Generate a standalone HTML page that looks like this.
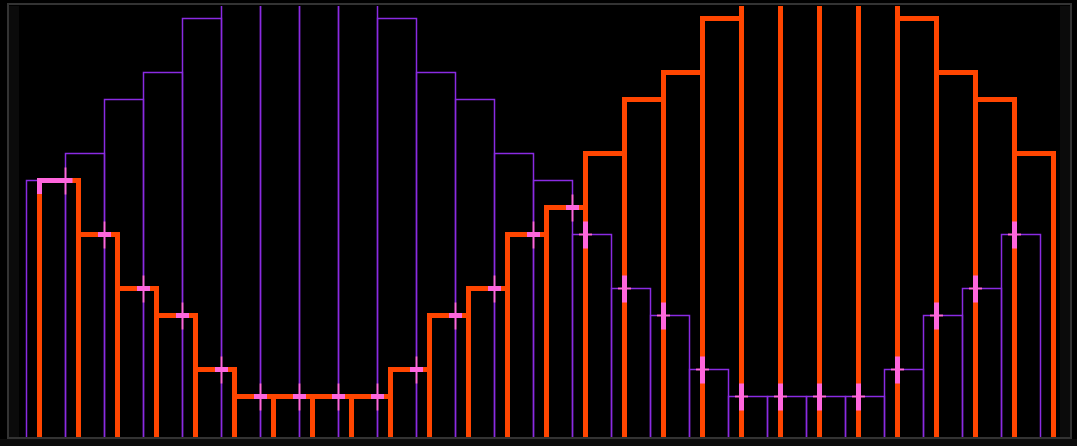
<!DOCTYPE html>
<html><head><meta charset="utf-8"><style>
html,body{margin:0;padding:0;background:#000;width:1077px;height:446px;overflow:hidden}
svg{display:block}
</style></head><body>
<svg id="chart" width="1077" height="446" xmlns="http://www.w3.org/2000/svg">
<rect x="0" y="0" width="1077" height="446" fill="#000"/>
<rect x="9" y="6" width="10" height="431" fill="#0b0b0b"/>
<rect x="1060" y="6" width="10" height="431" fill="#0b0b0b"/>
<rect x="0" y="439" width="1077" height="7" fill="#0c0c0c"/>
<defs><clipPath id="pc"><rect x="9" y="6" width="1061" height="431"/></clipPath></defs>
<g id="plot" clip-path="url(#pc)"></g>
<rect x="8" y="4" width="1063" height="434" fill="none" stroke="#333" stroke-width="2"/>
</svg>
<script>
// purple histogram: 26 bins starting at edge index 0
const purpleValues = [9.5,10.5,12.5,13.5,15.5,17,17,17,17,15.5,13.5,12.5,10.5,9.5,7.5,5.5,4.5,2.5,1.5,1.5,1.5,1.5,2.5,4.5,5.5,7.5];
// orange histogram: 26 bins offset by one third of a bin
const orangeValues = [9.5,7.5,5.5,4.5,2.5,1.5,1.5,1.5,1.5,2.5,4.5,5.5,7.5,8.5,10.5,12.5,13.5,15.5,17,17,17,17,15.5,13.5,12.5,10.5];
const binStart = 0, binWidth = 1, orangeOffset = 1/3;

const X0 = 26.5, PXB = 39, Y0 = 437, PXV = 27;
const xs = v => X0 + (v - binStart) * PXB;
const ys = v => Y0 - v * PXV;
const NS = 'http://www.w3.org/2000/svg';
const plot = document.getElementById('plot');
function mk(tag, attrs){const e=document.createElementNS(NS,tag);for(const k in attrs)e.setAttribute(k,attrs[k]);plot.appendChild(e);return e;}

// purple bars
purpleValues.forEach((v,i)=>{
  const x1=xs(i*binWidth), x2=xs((i+1)*binWidth), y=ys(v);
  const p=mk('path',{d:`M${x1},${Y0} V${y} H${x2} V${Y0}`,fill:'none',stroke:'#8a2be2','stroke-width':1.5});
  
  
});
// orange bars
orangeValues.forEach((v,i)=>{
  const x1=xs(i*binWidth+orangeOffset), x2=xs((i+1)*binWidth+orangeOffset), y=ys(v);
  const p=mk('path',{d:`M${x1},${Y0+3} V${y} H${x2} V${Y0+3}`,fill:'none',stroke:'#ff4500','stroke-width':5,'stroke-linejoin':'miter'});
  
  
});
// pink markers, left half: on orange tops at purple edges
for(let i=1;i<=14;i++){
  const x=xs(i*binWidth);
  const oi=Math.floor(i-orangeOffset);
  const y=ys(orangeValues[oi]);
  const g=mk('g',{});
  
  
  const a=document.createElementNS(NS,'rect');a.setAttribute('x',x-6.5);a.setAttribute('y',y-2.5);a.setAttribute('width',13);a.setAttribute('height',5);a.setAttribute('fill','#ff66dd');g.appendChild(a);
  const b=document.createElementNS(NS,'rect');b.setAttribute('x',x-1);b.setAttribute('y',y-13);b.setAttribute('width',2);b.setAttribute('height',27);b.setAttribute('fill','#ff66dd');g.appendChild(b);
}
// pink markers, right half: on purple tops at orange edges
for(let i=14;i<=25;i++){
  const x=xs(i*binWidth+orangeOffset);
  const pi=Math.floor(i+orangeOffset);
  const y=ys(purpleValues[pi]);
  const g=mk('g',{});
  
  
  const a=document.createElementNS(NS,'rect');a.setAttribute('x',x-2.5);a.setAttribute('y',y-13);a.setAttribute('width',5);a.setAttribute('height',27);a.setAttribute('fill','#ff66dd');g.appendChild(a);
  const b=document.createElementNS(NS,'rect');b.setAttribute('x',x-6.5);b.setAttribute('y',y-1);b.setAttribute('width',13);b.setAttribute('height',2);b.setAttribute('fill','#ff66dd');g.appendChild(b);
}
// first-bin pink highlight at left edge
{
  const y=ys(orangeValues[0]), x=xs(orangeOffset);
  const g=mk('g',{});
  
  
  const a=document.createElementNS(NS,'rect');a.setAttribute('x',x-2.5);a.setAttribute('y',y-2.5);a.setAttribute('width',5);a.setAttribute('height',16);a.setAttribute('fill','#ff66dd');g.appendChild(a);
  const b=document.createElementNS(NS,'rect');b.setAttribute('x',x);b.setAttribute('y',y-2.5);b.setAttribute('width',33);b.setAttribute('height',5);b.setAttribute('fill','#ff66dd');g.appendChild(b);
}
</script>
</body></html>
